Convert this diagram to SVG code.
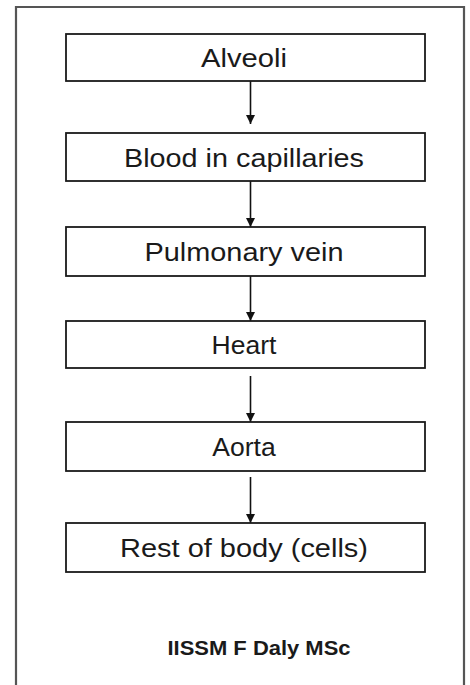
<svg xmlns="http://www.w3.org/2000/svg" width="470" height="685" viewBox="0 0 470 685">
<style>
.box{fill:#fff;stroke:#1a1a1a;stroke-width:1.8}
.lbl{font-family:"Liberation Sans",Arial,sans-serif;font-size:26.5px;fill:#1a1a1a;text-anchor:middle}
.conn{stroke:#111;stroke-width:1.6;fill:none;marker-end:url(#ah)}
.foot{font-family:"Liberation Sans",Arial,sans-serif;font-size:20px;font-weight:bold;fill:#1a1a1a;text-anchor:middle}
</style>
<defs>
<marker id="ah" markerUnits="userSpaceOnUse" markerWidth="9" markerHeight="10" refX="9" refY="4.5" orient="auto">
<path d="M0,0 L9,4.5 L0,9 z" fill="#111"/>
</marker>
</defs>
<rect width="470" height="685" fill="#fff"/>
<path d="M16,700 V7 H464 V700" fill="none" stroke="#555" stroke-width="2.2"/>
<g id="connectors">
<line class="conn" x1="250.5" y1="81" x2="250.5" y2="124"/>
<line class="conn" x1="250.5" y1="181" x2="250.5" y2="227"/>
<line class="conn" x1="250.5" y1="276" x2="250.5" y2="321"/>
<line class="conn" x1="250.5" y1="376" x2="250.5" y2="422"/>
<line class="conn" x1="250.5" y1="477" x2="250.5" y2="523"/>
</g>
<g id="n1"><rect class="box" x="66" y="34" width="359" height="47"/><text class="lbl" x="244" y="67" textLength="86" lengthAdjust="spacingAndGlyphs">Alveoli</text></g>
<g id="n2"><rect class="box" x="66" y="133" width="359" height="48"/><text class="lbl" x="244" y="166.5" textLength="240" lengthAdjust="spacingAndGlyphs">Blood in capillaries</text></g>
<g id="n3"><rect class="box" x="66" y="227" width="359" height="49"/><text class="lbl" x="244" y="261" textLength="199" lengthAdjust="spacingAndGlyphs">Pulmonary vein</text></g>
<g id="n4"><rect class="box" x="66" y="321" width="359" height="47"/><text class="lbl" x="244" y="354">Heart</text></g>
<g id="n5"><rect class="box" x="66" y="422" width="359" height="49"/><text class="lbl" x="244" y="456">Aorta</text></g>
<g id="n6"><rect class="box" x="66" y="523" width="359" height="49"/><text class="lbl" x="244" y="557" textLength="248" lengthAdjust="spacingAndGlyphs">Rest of body (cells)</text></g>
<text class="foot" x="259" y="655" textLength="183" lengthAdjust="spacingAndGlyphs">IISSM F Daly MSc</text>
</svg>
